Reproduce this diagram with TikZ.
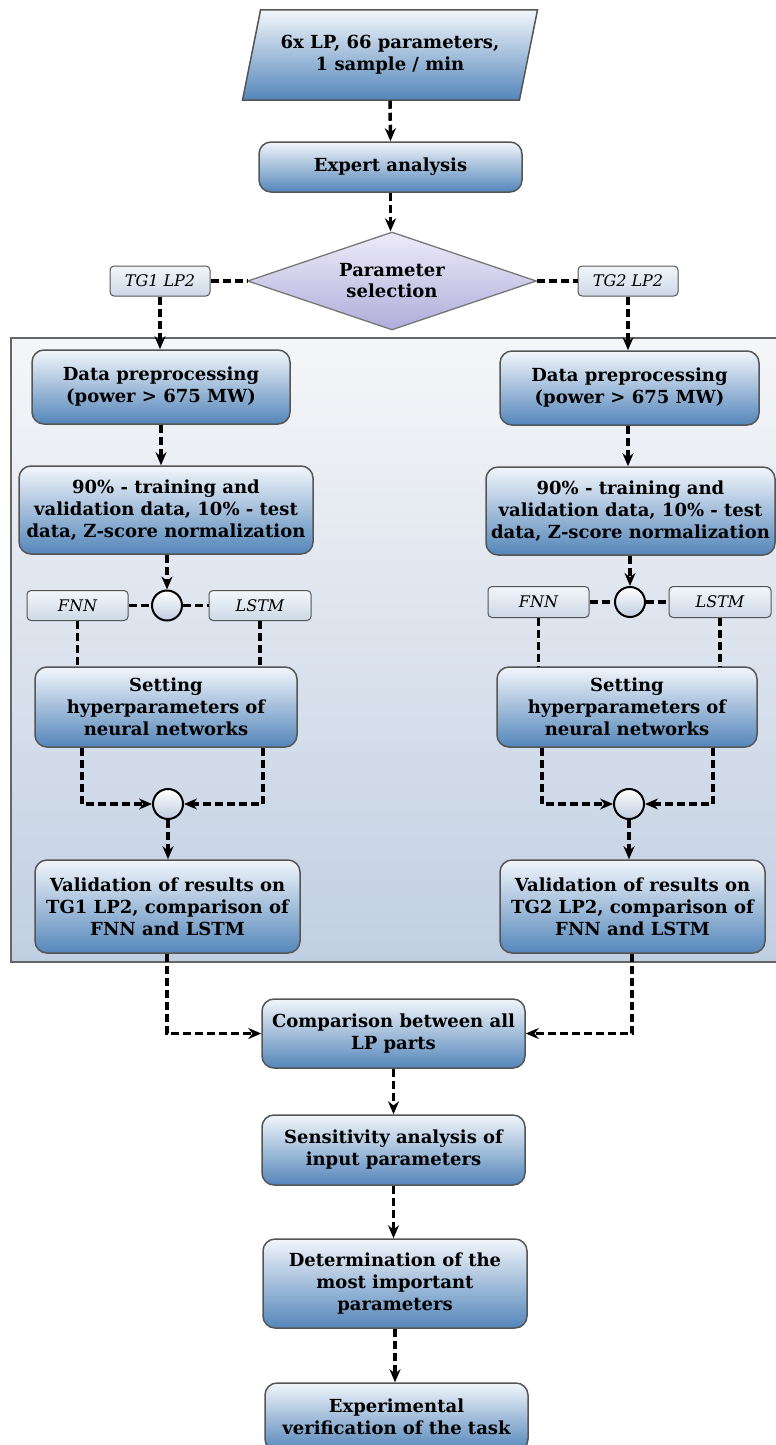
\documentclass[tikz,border=0pt]{standalone}
\usepackage{fontspec}
\setmainfont{DejaVu Serif}
\usetikzlibrary{shapes.geometric,arrows.meta}
\definecolor{boxtop}{RGB}{242,246,251}
\definecolor{boxmid}{RGB}{176,203,229}
\definecolor{boxbot}{RGB}{84,134,186}
\definecolor{boxline}{RGB}{85,85,85}
\definecolor{dtop}{RGB}{238,236,249}
\definecolor{dbot}{RGB}{176,172,218}
\definecolor{ctop}{RGB}{245,246,248}
\definecolor{cbot}{RGB}{193,207,226}
\definecolor{ttop}{RGB}{242,246,250}
\definecolor{tbot}{RGB}{205,216,230}
\definecolor{jbot}{RGB}{190,205,224}
\begin{document}
\begin{tikzpicture}[x=1pt,y=-1pt,
  box/.style={draw=boxline, line width=1.5pt, rounded corners=12pt,
    top color=boxtop, middle color=boxmid, bottom color=boxbot,
    align=center, inner sep=0pt, font=\bfseries\fontsize{18}{22}\selectfont},
  para/.style={trapezium, trapezium left angle=68.7, trapezium right angle=111.3,
    trapezium stretches=true, draw=boxline, line width=1.5pt,
    top color=boxtop, middle color=boxmid, bottom color=boxbot,
    align=center, inner sep=0pt, font=\bfseries\fontsize{18}{22}\selectfont},
  dec/.style={diamond, draw=boxline!80, line width=1.3pt, top color=dtop, bottom color=dbot,
    align=center, inner sep=0pt, font=\bfseries\fontsize{18}{21}\selectfont},
  tag/.style={draw=boxline, line width=1pt, rounded corners=4pt, top color=ttop, bottom color=tbot,
    inner sep=0pt, font=\itshape\fontsize{16}{18}\selectfont},
  junc/.style={circle, draw=black, line width=2pt, top color=white, bottom color=jbot,
    minimum size=30pt, inner sep=0pt},
  conn/.style={line width=3.5pt, dash pattern=on 8pt off 4pt},
  arr/.style={conn, -{Stealth[length=13pt,width=11pt]}}
]
\useasboundingbox (0,0) rectangle (776,1445);
% container
\path[draw=boxline!90, line width=1.5pt, top color=ctop, bottom color=cbot] (11,338) rectangle (790,962);

\node[para, minimum width=296pt, minimum height=90pt] (inp) at (390,55) {6x LP, 66 parameters,\\1 sample / min};
\node[box, minimum width=263pt, minimum height=50pt] (expert) at (390.5,167) {Expert analysis};
\node[dec, minimum width=289pt, minimum height=98pt, aspect=2.95] (sel) at (392,281) {Parameter\\selection};
\node[tag, minimum width=100pt, minimum height=30pt] (tg1) at (160,281) {TG1 LP2};
\node[tag, minimum width=100pt, minimum height=30pt] (tg2) at (628,281) {TG2 LP2};

% left branch
\node[box, minimum width=258pt, minimum height=74pt] (dp1) at (161,387) {Data preprocessing\\(power > 675 MW)};
\node[box, minimum width=294pt, minimum height=88pt] (sp1) at (166,510) {90\% - training and\\validation data, 10\% - test\\data, Z-score normalization};
\node[junc] (c1) at (167,605.5) {};
\node[tag, minimum width=101pt, minimum height=30pt] (fnn1) at (77.5,605.5) {FNN};
\node[tag, minimum width=102pt, minimum height=30pt] (lstm1) at (260,605.5) {LSTM};
\node[box, minimum width=262pt, minimum height=80pt] (set1) at (166,707) {Setting\\hyperparameters of\\neural networks};
\node[junc] (c3) at (168,804) {};
\node[box, minimum width=265pt, minimum height=93pt] (val1) at (167.5,906.5) {Validation of results on\\TG1 LP2, comparison of\\FNN and LSTM};

% right branch
\node[box, minimum width=259pt, minimum height=74pt] (dp2) at (629.5,388) {Data preprocessing\\(power > 675 MW)};
\node[box, minimum width=289pt, minimum height=88pt] (sp2) at (630.5,511) {90\% - training and\\validation data, 10\% - test\\data, Z-score normalization};
\node[junc] (c2) at (630,602) {};
\node[tag, minimum width=101pt, minimum height=31pt] (fnn2) at (538.5,602) {FNN};
\node[tag, minimum width=102pt, minimum height=31pt] (lstm2) at (720,602) {LSTM};
\node[box, minimum width=260pt, minimum height=80pt] (set2) at (627,707) {Setting\\hyperparameters of\\neural networks};
\node[junc] (c4) at (629,804) {};
\node[box, minimum width=265pt, minimum height=93pt] (val2) at (632.5,906.5) {Validation of results on\\TG2 LP2, comparison of\\FNN and LSTM};

% bottom
\node[box, minimum width=263pt, minimum height=69pt] (cmp) at (393.5,1033.5) {Comparison between all\\LP parts};
\node[box, minimum width=263pt, minimum height=70pt] (sens) at (393.5,1150) {Sensitivity analysis of\\input parameters};
\node[box, minimum width=264pt, minimum height=89pt] (det) at (395,1283.5) {Determination of the\\most important\\parameters};
\node[box, minimum width=263pt, minimum height=68pt] (exp) at (396.5,1417) {Experimental\\verification of the task};

% connectors top
\draw[arr] (inp.south) -- (expert.north);
\draw[arr] (expert.south) -- (expert.south |- sel.north);
\draw[conn] (tg1.east) -- (sel.west);
\draw[conn] (sel.east) -- (tg2.west);
\draw[arr] (tg1.south) -- (tg1.south |- dp1.north);
\draw[arr] (tg2.south) -- (tg2.south |- dp2.north);

% left
\draw[arr] (dp1.south) -- (dp1.south |- sp1.north);
\draw[arr] (sp1.south -| c1.north) -- (c1.north);
\draw[conn] (fnn1.east) -- (c1.west);
\draw[conn] (c1.east) -- (lstm1.west);
\draw[conn] (fnn1.south) -- (fnn1.south |- set1.north);
\draw[conn] (lstm1.south) -- (lstm1.south |- set1.north);
\coordinate (l1) at (82,804);
\coordinate (l2) at (263,804);
\draw[arr] (l1 |- set1.south) -- (l1) -- (c3.west);
\draw[arr] (l2 |- set1.south) -- (l2) -- (c3.east);
\draw[arr] (c3.south) -- (c3.south |- val1.north);

% right
\draw[arr] (dp2.south -| tg2.south) -- (tg2.south |- sp2.north);
\draw[arr] (sp2.south -| c2.north) -- (c2.north);
\draw[conn] (fnn2.east) -- (c2.west);
\draw[conn] (c2.east) -- (lstm2.west);
\draw[conn] (fnn2.south) -- (fnn2.south |- set2.north);
\draw[conn] (lstm2.south) -- (lstm2.south |- set2.north);
\coordinate (r1) at (542,804);
\coordinate (r2) at (713,804);
\draw[arr] (r1 |- set2.south) -- (r1) -- (c4.west);
\draw[arr] (r2 |- set2.south) -- (r2) -- (c4.east);
\draw[arr] (c4.south) -- (c4.south |- val2.north);

% bottom connectors
\coordinate (b1) at (167,1033.5);
\coordinate (b2) at (632,1033.5);
\draw[arr] (b1 |- val1.south) -- (b1) -- (cmp.west);
\draw[arr] (b2 |- val2.south) -- (b2) -- (cmp.east);
\draw[arr] (cmp.south) -- (cmp.south |- sens.north);
\draw[arr] (sens.south) -- (sens.south |- det.north);
\draw[arr] (det.south) -- (det.south |- exp.north);
\end{tikzpicture}
\end{document}
